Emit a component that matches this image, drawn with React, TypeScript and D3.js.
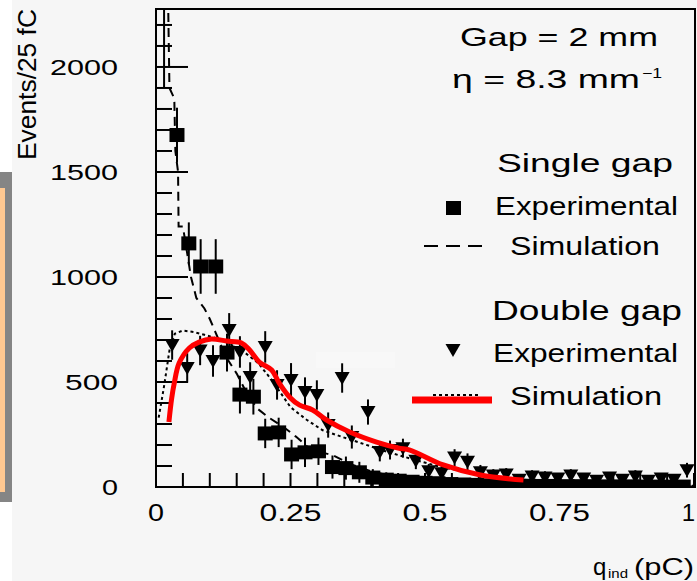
import React from "react";
import * as d3 from "d3";

const W = 697;
const H = 581;

// Axis ticks and labels
const xLabelValues = [0, 0.25, 0.5, 0.75, 1];
const xLabelTexts = ["0", "0.25", "0.5", "0.75", "1"];
const xLabelWidths = [16, 62, 45, 61, 0];
const yLabelValues = [0, 500, 1000, 1500, 2000];
const yLabelTexts = ["0", "500", "1000", "1500", "2000"];
const yLabelWidths = [16, 53, 68, 68, 68];

// Single gap, experimental (squares): charge, events, error
const singleQ = [0.015, 0.039, 0.061, 0.083, 0.111, 0.132, 0.156, 0.181, 0.203, 0.228, 0.252, 0.277, 0.302, 0.328, 0.353, 0.378, 0.403, 0.428, 0.452, 0.476, 0.5, 0.524, 0.548, 0.572, 0.596, 0.62, 0.644, 0.668, 0.692, 0.716, 0.74, 0.764, 0.788, 0.812, 0.836, 0.86, 0.884, 0.908, 0.932, 0.956, 0.98];
const singleV = [2500, 1676, 1160, 1050, 1050, 640, 440, 430, 255, 260, 155, 165, 170, 95, 90, 70, 45, 35, 30, 25, 20, 18, 14, 12, 10, 8, 8, 6, 6, 5, 5, 4, 4, 4, 3, 3, 3, 2, 2, 2, 2];
const singleErr = [600, 130, 100, 130, 130, 90, 90, 85, 70, 70, 70, 70, 65, 55, 55, 50, 40, 35, 30, 30, 25, 25, 20, 20, 20, 15, 15, 15, 15, 12, 12, 12, 12, 10, 10, 10, 10, 10, 10, 10, 10];

// Double gap, experimental (inverted triangles)
const doubleQ = [0.03, 0.058, 0.082, 0.106, 0.136, 0.156, 0.175, 0.203, 0.225, 0.251, 0.277, 0.299, 0.32, 0.346, 0.364, 0.394, 0.416, 0.435, 0.459, 0.483, 0.507, 0.531, 0.555, 0.579, 0.603, 0.627, 0.651, 0.675, 0.699, 0.723, 0.747, 0.771, 0.795, 0.819, 0.843, 0.867, 0.891, 0.915, 0.939, 0.963, 0.987];
const doubleV = [676, 567, 650, 600, 748, 643, 524, 667, 486, 510, 452, 438, 295, 519, 238, 357, 167, 176, 185, 125, 75, 65, 140, 120, 70, 55, 60, 35, 50, 45, 40, 55, 40, 30, 45, 35, 50, 30, 40, 35, 80];
const doubleErr = [70, 70, 70, 75, 80, 75, 70, 75, 70, 80, 70, 70, 60, 70, 55, 60, 45, 45, 45, 40, 35, 35, 40, 40, 35, 30, 30, 25, 30, 30, 25, 30, 25, 25, 25, 25, 30, 25, 25, 25, 35];

// Single gap simulation (dashed)
const singleSimQ = [0.022, 0.025, 0.034, 0.036, 0.041, 0.042, 0.05, 0.065, 0.075, 0.09, 0.1, 0.11, 0.13, 0.15, 0.17, 0.19, 0.21, 0.24, 0.26, 0.28, 0.3, 0.33, 0.36, 0.4, 0.45, 0.5, 0.55, 0.6, 0.7, 0.8, 0.9, 1.0];
const singleSimV = [2400, 1900, 1850, 1600, 1500, 1240, 1240, 1000, 900, 850, 800, 740, 620, 540, 440, 370, 330, 280, 240, 195, 170, 150, 110, 75, 45, 28, 18, 12, 7, 4, 3, 2];

// Double gap simulation (dotted)
const doubleSimQ = [0.005, 0.015, 0.025, 0.035, 0.05, 0.07, 0.09, 0.11, 0.13, 0.16, 0.19, 0.215, 0.25, 0.28, 0.31, 0.35, 0.38, 0.43, 0.48, 0.53, 0.58, 0.63, 0.68, 0.75, 0.82, 0.9, 1.0];
const doubleSimV = [330, 480, 650, 730, 745, 738, 725, 710, 690, 650, 590, 510, 380, 320, 270, 235, 210, 167, 130, 95, 70, 50, 35, 22, 15, 10, 6];

// Double gap simulation, smooth red curve
const curveQ = [0.024, 0.029, 0.034, 0.043, 0.062, 0.08, 0.103, 0.131, 0.159, 0.174, 0.192, 0.215, 0.229, 0.248, 0.267, 0.291, 0.317, 0.36, 0.41, 0.45, 0.472, 0.534, 0.603, 0.683];
const curveV = [310, 420, 495, 590, 662, 690, 705, 695, 686, 652, 595, 557, 495, 429, 390, 367, 319, 262, 214, 186, 176, 105, 57, 33];

const FONT = "'Liberation Sans', Arial, Helvetica, sans-serif";
const BG = "#f6f6f6";

const L = 156, R = 695, T = 9, B = 487;

export default function App() {
  const x = d3.scaleLinear().domain([0, 1]).range([156, 694]);
  const y = d3.scaleLinear().domain([0, 2276]).range([B, T]);

  const lineGen = d3
    .line<[number, number]>()
    .x((d) => x(d[0]))
    .y((d) => y(d[1]));
  const smoothGen = d3
    .line<[number, number]>()
    .x((d) => x(d[0]))
    .y((d) => y(d[1]))
    .curve(d3.curveCatmullRom.alpha(0.5));

  const singleSim = singleSimQ.map((q, i) => [q, singleSimV[i]] as [number, number]);
  const doubleSim = doubleSimQ.map((q, i) => [q, doubleSimV[i]] as [number, number]);
  const fit = curveQ.map((q, i) => [q, curveV[i]] as [number, number]);

  const yMinor = d3.range(0, 2300, 100);
  const xMinor = d3.range(0, 1.0001, 0.05);

  const tri = "M-7.5,-6 L7.5,-6 L0,7 Z";

  return (
    <svg
      width={W}
      height={H}
      style={{ position: "absolute", left: 0, top: 0, display: "block" }}
      fontFamily={FONT}
    >
      <defs>
        <clipPath id="plotArea">
          <rect x={L} y={T} width={R - L} height={B - T} />
        </clipPath>
      </defs>
      <rect x={0} y={0} width={W} height={H} fill="#ffffff" />
      <rect x={12} y={0} width={W - 12} height={H} fill={BG} />

      {/* side strip */}
      <rect x={0} y={172} width={12} height={330} fill="#858585" />
      <rect x={0} y={188} width={5} height={304} fill="#ffc891" />

      {/* faint panel */}
      <rect x={316} y={352} width={79} height={16} fill="#f8f8f8" />

      {/* y axis title */}
      <text
        transform="translate(36,160) rotate(-90)"
        fontSize={26}
        textLength={151}
        lengthAdjust="spacingAndGlyphs"
        fill="#000"
      >
        Events/25 fC
      </text>

      {/* y tick labels */}
      {yLabelValues.map((v, i) => (
        <text
          key={"yl" + i}
          x={118}
          y={y(v) + 8}
          fontSize={22}
          textAnchor="end"
          textLength={yLabelWidths[i]}
          lengthAdjust="spacingAndGlyphs"
        >
          {yLabelTexts[i]}
        </text>
      ))}

      {/* x tick labels */}
      {xLabelValues.map((v, i) =>
        xLabelWidths[i] > 0 ? (
          <text
            key={"xl" + i}
            x={x(v)}
            y={521}
            fontSize={24}
            textAnchor="middle"
            textLength={xLabelWidths[i]}
            lengthAdjust="spacingAndGlyphs"
          >
            {xLabelTexts[i]}
          </text>
        ) : (
          <text key={"xl" + i} x={x(v) + 1} y={521} fontSize={24} textAnchor="end">
            {xLabelTexts[i]}
          </text>
        )
      )}

      {/* x axis title */}
      <text x={593} y={575} fontSize={24}>q</text>
      <text x={608} y={578} fontSize={12} textLength={20} lengthAdjust="spacingAndGlyphs">ind</text>
      <text x={634} y={575} fontSize={24} textLength={60} lengthAdjust="spacingAndGlyphs">(pC)</text>

      {/* ticks */}
      {yMinor.map((v) => (
        <line
          key={"yt" + v}
          x1={L}
          x2={L + (v % 500 === 0 ? 32 : 16)}
          y1={y(v)}
          y2={y(v)}
          stroke="#000"
          strokeWidth={2}
        />
      ))}
      {xMinor.map((v, i) => (
        <line key={"xt" + i} x1={x(v)} x2={x(v)} y1={B} y2={B - 14} stroke="#000" strokeWidth={2} />
      ))}

      <g clipPath="url(#plotArea)">
        {/* simulations */}
        <path d={lineGen(singleSim) || ""} fill="none" stroke="#000" strokeWidth={2} strokeDasharray="9,6" />
        <path d={lineGen(doubleSim) || ""} fill="none" stroke="#000" strokeWidth={2} strokeDasharray="3,3" />

        {/* single gap data */}
        {singleQ.map((q, i) => (
          <g key={"s" + i}>
            <line
              x1={x(q)}
              x2={x(q)}
              y1={y(singleV[i] - singleErr[i])}
              y2={y(singleV[i] + singleErr[i])}
              stroke="#000"
              strokeWidth={2}
            />
            <rect x={x(q) - 7.5} y={y(singleV[i]) - 7} width={15} height={14} fill="#000" />
          </g>
        ))}

        {/* double gap data */}
        {doubleQ.map((q, i) => (
          <g key={"d" + i}>
            <line
              x1={x(q)}
              x2={x(q)}
              y1={y(doubleV[i] - doubleErr[i])}
              y2={y(doubleV[i] + doubleErr[i])}
              stroke="#000"
              strokeWidth={2}
            />
            <path d={tri} transform={`translate(${x(q)},${y(doubleV[i])})`} fill="#000" />
          </g>
        ))}

        {/* red simulation curve */}
        <path d={smoothGen(fit) || ""} fill="none" stroke="#ff0000" strokeWidth={5} strokeLinejoin="round" />
      </g>

      {/* frame */}
      <rect x={L} y={T} width={R - L} height={B - T} fill="none" stroke="#000" strokeWidth={2} />

      {/* legend */}
      <text x={460} y={46} fontSize={26} textLength={198} lengthAdjust="spacingAndGlyphs">Gap = 2 mm</text>
      <text x={452} y={88} fontSize={25} textLength={188} lengthAdjust="spacingAndGlyphs">η = 8.3 mm</text>
      <text x={642} y={78} fontSize={14} textLength={20} lengthAdjust="spacingAndGlyphs">−1</text>

      <text x={497} y={172} fontSize={26} textLength={176} lengthAdjust="spacingAndGlyphs">Single gap</text>
      <rect x={446} y={201} width={15} height={14} fill="#000" />
      <text x={495} y={215} fontSize={25} textLength={183} lengthAdjust="spacingAndGlyphs">Experimental</text>
      <line x1={424} x2={490} y1={246} y2={246} stroke="#000" strokeWidth={2} strokeDasharray="14,8" />
      <text x={510} y={255} fontSize={25} textLength={150} lengthAdjust="spacingAndGlyphs">Simulation</text>

      <text x={492} y={320} fontSize={27} textLength={190} lengthAdjust="spacingAndGlyphs">Double gap</text>
      <path d={tri} transform="translate(453,350)" fill="#000" />
      <text x={493} y={362} fontSize={25} textLength={185} lengthAdjust="spacingAndGlyphs">Experimental</text>
      <line x1={433} x2={480} y1={395} y2={395} stroke="#000" strokeWidth={2} strokeDasharray="3,3" />
      <line x1={412} x2={492} y1={400} y2={400} stroke="#ff0000" strokeWidth={7} />
      <text x={510} y={405} fontSize={25} textLength={152} lengthAdjust="spacingAndGlyphs">Simulation</text>
    </svg>
  );
}
